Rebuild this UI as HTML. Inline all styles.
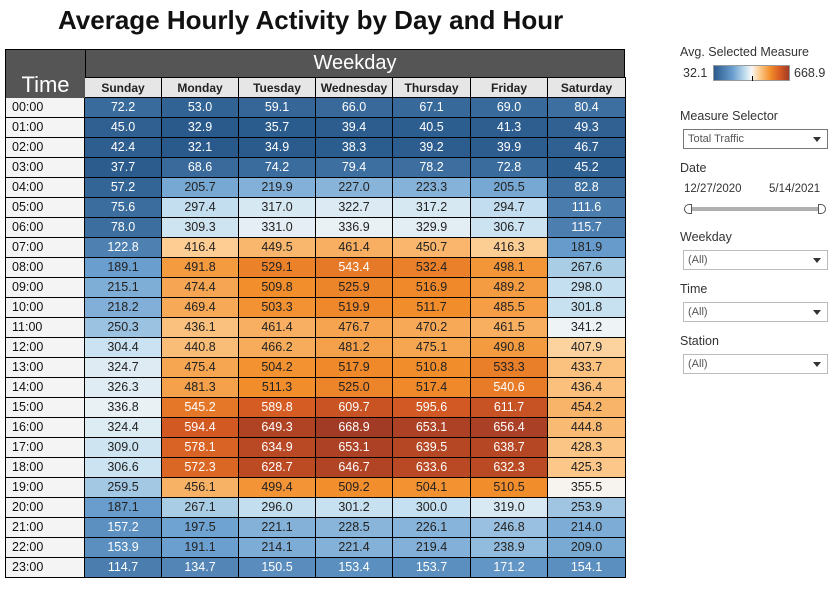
<!DOCTYPE html>
<html><head><meta charset="utf-8"><style>
body{margin:0;width:839px;height:589px;background:#fff;font-family:"Liberation Sans",sans-serif;position:relative;overflow:hidden}
.a{position:absolute;box-sizing:border-box}
.cell{position:absolute;box-sizing:border-box;border-right:1px solid #000;border-bottom:1px solid #000;font-size:12.5px;text-align:center;line-height:19px}
.lbl{position:absolute;font-size:12.5px;color:#333}
.dd{position:absolute;box-sizing:border-box;border:1px solid #bbb;background:#fff;font-size:11px;color:#555;padding-left:4px;line-height:18px}
.dd::after{content:"";position:absolute;right:6px;top:7px;border-left:4px solid transparent;border-right:4px solid transparent;border-top:5px solid #333}
</style></head><body>
<div class="a" style="left:58px;top:5px;font-size:26px;font-weight:bold;color:#111;white-space:nowrap">Average Hourly Activity by Day and Hour</div>
<div class="a" style="left:5px;top:49px;width:81px;height:50px;background:#555;border:1px solid #000;color:#fff;font-size:22px;text-align:center;padding-top:22px">Time</div>
<div class="a" style="left:85px;top:49px;width:540px;height:29px;background:#555;border:1px solid #000;color:#fff;font-size:20px;text-align:center;line-height:27px">Weekday</div>
<div id="grid"></div>

<div class="lbl" style="left:680px;top:45px">Avg. Selected Measure</div>
<div class="lbl" style="left:683px;top:66px">32.1</div>
<div class="a" style="left:713px;top:65px;width:77px;height:16px;border:1px solid #999;background:linear-gradient(to right,#2a5a8c,#6a9fcf 25%,#c5e0f0 42%,#f7f7f7 50%,#fdcf95 60%,#f28e2b 75%,#d45a23 88%,#a23b25)"><div style="position:absolute;left:38px;top:10px;width:1px;height:5px;background:#000"></div></div>
<div class="lbl" style="left:794px;top:66px">668.9</div>

<div class="lbl" style="left:680px;top:109px">Measure Selector</div>
<div class="dd" style="left:683px;top:129px;width:145px;height:20px;border-color:#777">Total Traffic</div>
<div class="lbl" style="left:680px;top:161px">Date</div>
<div class="lbl" style="left:684px;top:183px;font-size:11.5px">12/27/2020</div>
<div class="lbl" style="left:769px;top:183px;font-size:11.5px">5/14/2021</div>
<div class="a" style="left:688px;top:207px;width:134px;height:4px;background:#b0b0b0"></div>
<div class="a" style="left:684px;top:204px;width:8px;height:10px;border:1px solid #555;background:#fff;border-radius:5px 0 0 5px"></div>
<div class="a" style="left:818px;top:204px;width:8px;height:10px;border:1px solid #555;background:#fff;border-radius:0 5px 5px 0"></div>
<div class="lbl" style="left:680px;top:230px">Weekday</div>
<div class="dd" style="left:683px;top:250px;width:145px;height:20px">(All)</div>
<div class="lbl" style="left:680px;top:282px">Time</div>
<div class="dd" style="left:683px;top:302px;width:145px;height:20px">(All)</div>
<div class="lbl" style="left:680px;top:334px">Station</div>
<div class="dd" style="left:683px;top:354px;width:145px;height:20px">(All)</div>

<script>
const days=["Sunday","Monday","Tuesday","Wednesday","Thursday","Friday","Saturday"];
const hours=["00:00","01:00","02:00","03:00","04:00","05:00","06:00","07:00","08:00","09:00","10:00","11:00","12:00","13:00","14:00","15:00","16:00","17:00","18:00","19:00","20:00","21:00","22:00","23:00"];
const sunday=[72.2,45.0,42.4,37.7,57.2,75.6,78.0,122.8,189.1,215.1,218.2,250.3,304.4,324.7,326.3,336.8,324.4,309.0,306.6,259.5,187.1,157.2,153.9,114.7];
const monday=[53.0,32.9,32.1,68.6,205.7,297.4,309.3,416.4,491.8,474.4,469.4,436.1,440.8,475.4,481.3,545.2,594.4,578.1,572.3,456.1,267.1,197.5,191.1,134.7];
const tuesday=[59.1,35.7,34.9,74.2,219.9,317.0,331.0,449.5,529.1,509.8,503.3,461.4,466.2,504.2,511.3,589.8,649.3,634.9,628.7,499.4,296.0,221.1,214.1,150.5];
const wednesday=[66.0,39.4,38.3,79.4,227.0,322.7,336.9,461.4,543.4,525.9,519.9,476.7,481.2,517.9,525.0,609.7,668.9,653.1,646.7,509.2,301.2,228.5,221.4,153.4];
const thursday=[67.1,40.5,39.2,78.2,223.3,317.2,329.9,450.7,532.4,516.9,511.7,470.2,475.1,510.8,517.4,595.6,653.1,639.5,633.6,504.1,300.0,226.1,219.4,153.7];
const friday=[69.0,41.3,39.9,72.8,205.5,294.7,306.7,416.3,498.1,489.2,485.5,461.5,490.8,533.3,540.6,611.7,656.4,638.7,632.3,510.5,319.0,246.8,238.9,171.2];
const saturday=[80.4,49.3,46.7,45.2,82.8,111.6,115.7,181.9,267.6,298.0,301.8,341.2,407.9,433.7,436.4,454.2,444.8,428.3,425.3,355.5,253.9,214.0,209.0,154.1];
const series=[sunday,monday,tuesday,wednesday,thursday,friday,saturday];
const vmin=32.1,vmax=668.9;
const stops=[[0,[42,90,140]],[0.25,[106,159,207]],[0.42,[197,224,240]],[0.5,[247,247,247]],[0.6,[253,207,149]],[0.75,[242,142,43]],[0.88,[212,90,35]],[1,[162,59,37]]];
function color(v){let t=(v-vmin)/(vmax-vmin);t=Math.max(0,Math.min(1,t));for(let i=1;i<stops.length;i++){if(t<=stops[i][0]){const a=stops[i-1],b=stops[i];const f=(t-a[0])/(b[0]-a[0]);const c=a[1].map((x,k)=>Math.round(x+(b[1][k]-x)*f));return `rgb(${c})`;}}return 'rgb(162,59,37)';}
const X0=85,CW=77.1,Y0=98,RH=20;
const xOf=i=>Math.round(X0+i*CW), yOf=j=>Y0+j*RH;
const g=document.getElementById('grid');
function mk(x,y,w,h,txt,bg,fg,extra){const d=document.createElement('div');d.className='cell';d.style.cssText=`left:${x}px;top:${y}px;width:${w}px;height:${h}px;background:${bg};color:${fg};${extra||''}`;d.textContent=txt;g.appendChild(d);return d;}
days.forEach((d,i)=>{const e=mk(xOf(i),77,xOf(i+1)-xOf(i)+(i==6?1:0),21,d,'#e6e6e6','#222','font-weight:bold;font-size:12px;line-height:20px;border-top:1px solid #000');

});
hours.forEach((h,j)=>{const e=mk(5,yOf(j),80,RH,h,'#f4f4f4','#111','text-align:left;padding-left:6px;border-left:1px solid #000');


series.forEach((s,i)=>{const v=s[j];const fg=(v<180||v>538)?'#fff':'#222';const c=mk(xOf(i),yOf(j),xOf(i+1)-xOf(i)+(i==6?1:0),RH,v.toFixed(1),color(v),fg);

});});
</script>
</body></html>
